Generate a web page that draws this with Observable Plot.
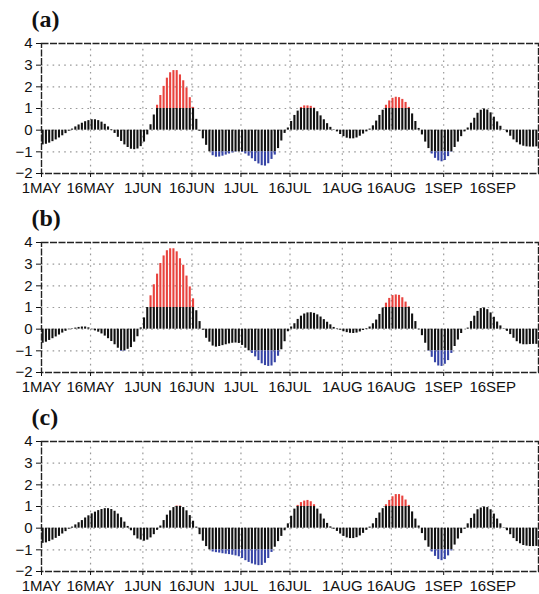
<!DOCTYPE html>
<html>
<head>
<meta charset="utf-8">
<script src="https://cdn.jsdelivr.net/npm/d3@7"></script>
<script src="https://cdn.jsdelivr.net/npm/@observablehq/plot@0.6"></script>
<style>
  html, body { margin: 0; padding: 0; background: #fff; }
  #chart { width: 539px; }
  #chart svg { display: block; }
</style>
</head>
<body>
<div id="chart"></div>
<script>
// Day index 0 = 1 May, bars are daily values (1 May .. 30 Sep)
const xTickDays   = [0, 15, 31, 46, 61, 76, 92, 107, 123, 138];
const xTickLabels = ["1MAY", "16MAY", "1JUN", "16JUN", "1JUL", "16JUL", "1AUG", "16AUG", "1SEP", "16SEP"];
const yTicks = [-2, -1, 0, 1, 2, 3, 4];
const yGrid = [-1, 0, 1, 2, 3];
const panelLabels = ["(a)", "(b)", "(c)"];

const seriesA = [
  -0.68,-0.65,-0.6,-0.53,-0.45,-0.36,-0.26,-0.16,-0.05,0.05,
  0.15,0.24,0.32,0.39,0.44,0.48,0.48,0.44,0.37,0.27,
  0.15,0.03,-0.15,-0.33,-0.52,-0.68,-0.8,-0.88,-0.9,-0.87,
  -0.76,-0.55,-0.22,0.25,0.7,1.15,1.6,2.02,2.4,2.65,
  2.75,2.75,2.55,2.28,1.95,1.5,1.05,0.5,-0.05,-0.4,
  -0.7,-1.0,-1.18,-1.25,-1.24,-1.2,-1.15,-1.1,-1.05,-1.02,
  -1.0,-1.03,-1.1,-1.2,-1.32,-1.45,-1.56,-1.64,-1.66,-1.55,
  -1.35,-1.15,-0.85,-0.5,-0.15,0.1,0.4,0.68,0.88,1.05,
  1.12,1.12,1.1,1.02,0.85,0.66,0.48,0.3,0.13,0.02,
  -0.08,-0.2,-0.3,-0.37,-0.4,-0.4,-0.36,-0.28,-0.18,-0.08,
  0.05,0.2,0.42,0.68,0.92,1.15,1.35,1.47,1.52,1.5,
  1.42,1.28,1.05,0.75,0.4,0.08,-0.22,-0.55,-0.85,-1.1,
  -1.3,-1.42,-1.46,-1.4,-1.22,-1.02,-0.8,-0.55,-0.3,-0.08,
  0.1,0.32,0.55,0.78,0.92,0.98,0.93,0.8,0.6,0.38,
  0.18,0.02,-0.12,-0.28,-0.45,-0.58,-0.68,-0.74,-0.77,-0.78,
  -0.78,-0.77
];

const seriesB = [
  -0.65,-0.6,-0.52,-0.44,-0.36,-0.27,-0.18,-0.1,-0.03,0.02,
  0.05,0.08,0.1,0.1,0.06,-0.03,-0.08,-0.14,-0.22,-0.32,
  -0.44,-0.57,-0.72,-0.88,-1.03,-1.02,-0.93,-0.85,-0.6,-0.35,
  0.06,0.52,1.0,1.54,2.05,2.54,3.03,3.38,3.62,3.71,
  3.71,3.57,3.25,2.95,2.45,1.95,1.4,0.85,0.35,-0.05,
  -0.42,-0.6,-0.78,-0.83,-0.8,-0.76,-0.72,-0.68,-0.65,-0.64,
  -0.66,-0.75,-0.88,-1.0,-1.12,-1.28,-1.45,-1.6,-1.68,-1.72,
  -1.7,-1.55,-1.25,-0.95,-0.58,-0.12,0.1,0.25,0.45,0.6,
  0.7,0.75,0.76,0.73,0.66,0.56,0.44,0.32,0.2,0.08,
  0.02,-0.05,-0.12,-0.16,-0.19,-0.2,-0.18,-0.13,-0.06,0.03,
  0.1,0.25,0.42,0.68,0.98,1.2,1.42,1.55,1.58,1.56,
  1.45,1.25,1.03,0.7,0.35,-0.03,-0.3,-0.65,-1.02,-1.3,
  -1.55,-1.7,-1.72,-1.62,-1.45,-1.12,-0.8,-0.5,-0.2,0.0,
  0.05,0.35,0.6,0.82,0.95,0.98,0.9,0.75,0.55,0.33,
  0.15,0.02,-0.1,-0.25,-0.42,-0.58,-0.68,-0.72,-0.72,-0.71,
  -0.7,-0.7
];

const seriesC = [
  -0.7,-0.68,-0.62,-0.55,-0.47,-0.38,-0.27,-0.16,-0.05,0.05,
  0.15,0.25,0.35,0.47,0.57,0.66,0.74,0.81,0.86,0.9,
  0.9,0.86,0.78,0.65,0.48,0.28,0.08,-0.12,-0.35,-0.5,
  -0.55,-0.6,-0.55,-0.45,-0.3,-0.1,0.1,0.35,0.6,0.8,
  0.95,1.02,1.02,0.95,0.8,0.58,0.32,0.05,-0.3,-0.6,
  -0.85,-1.0,-1.1,-1.13,-1.15,-1.18,-1.2,-1.22,-1.25,-1.28,
  -1.32,-1.4,-1.5,-1.58,-1.65,-1.7,-1.73,-1.72,-1.62,-1.4,
  -1.12,-0.88,-0.62,-0.38,-0.12,0.2,0.55,0.88,1.05,1.18,
  1.25,1.28,1.22,1.08,0.88,0.65,0.42,0.22,0.06,-0.05,
  -0.15,-0.27,-0.38,-0.45,-0.48,-0.48,-0.44,-0.36,-0.24,-0.1,
  0.05,0.2,0.45,0.7,0.9,1.08,1.28,1.45,1.55,1.55,
  1.48,1.3,1.05,0.75,0.42,0.1,-0.25,-0.58,-0.88,-1.1,
  -1.3,-1.45,-1.5,-1.45,-1.28,-1.05,-0.78,-0.5,-0.25,-0.05,
  0.2,0.45,0.65,0.85,0.93,0.98,0.95,0.85,0.65,0.42,
  0.2,0.02,-0.12,-0.3,-0.48,-0.62,-0.72,-0.8,-0.83,-0.85,
  -0.85,-0.84
];

const RED = "#e8433e";
const BLUE = "#3644a6";
const BLACK = "#111";

function panel(label, values, height, marginBottom) {
  const bars = values.map((v, i) => ({day: i, v}));
  const bx1 = d => d.day + 0.18;
  const bx2 = d => d.day + 0.82;
  const gridStyle = {stroke: "#9a9a9a", strokeOpacity: 1, strokeWidth: 1.2, strokeDasharray: "1.6,4.2"};
  return Plot.plot({
    width: 539,
    height,
    marginTop: 43,
    marginBottom,
    marginLeft: 41,
    marginRight: 1,
    x: {domain: [0, 152]},
    y: {domain: [-2, 4]},
    style: {fontFamily: "'Liberation Sans', Arial, sans-serif", fontSize: "15px", color: "#111", background: "#fff"},
    marks: [
      Plot.gridY(yGrid, gridStyle),
      Plot.gridX(xTickDays.slice(1), gridStyle),
      Plot.rect(bars, {x1: bx1, x2: bx2, y1: 0, y2: d => Math.max(-1, Math.min(1, d.v)), fill: BLACK}),
      Plot.rect(bars.filter(d => d.v > 1), {x1: bx1, x2: bx2, y1: 1, y2: d => d.v, fill: RED}),
      Plot.rect(bars.filter(d => d.v < -1), {x1: bx1, x2: bx2, y1: -1, y2: d => d.v, fill: BLUE}),
      Plot.frame({stroke: "#222", strokeWidth: 1.4, strokeDasharray: "7,1.5"}),
      Plot.axisY(yTicks, {tickSize: 5, tickPadding: 4, fontSize: 15, label: null}),
      Plot.axisX(xTickDays, {tickSize: 4, tickPadding: 5, fontSize: 15, label: null,
        tickFormat: d => xTickLabels[xTickDays.indexOf(d)]}),
      Plot.text([label], {frameAnchor: "top-left", dx: -10, dy: -16.6, textAnchor: "start", lineAnchor: "bottom",
        fontSize: 24, fontWeight: "bold", fontFamily: "'Liberation Serif', 'Times New Roman', serif", fill: "#111"})
    ]
  });
}

const chart = document.getElementById("chart");
chart.append(panel(panelLabels[0], seriesA, 199, 26));
chart.append(panel(panelLabels[1], seriesB, 199, 26));
chart.append(panel(panelLabels[2], seriesC, 196, 23));
</script>
</body>
</html>
